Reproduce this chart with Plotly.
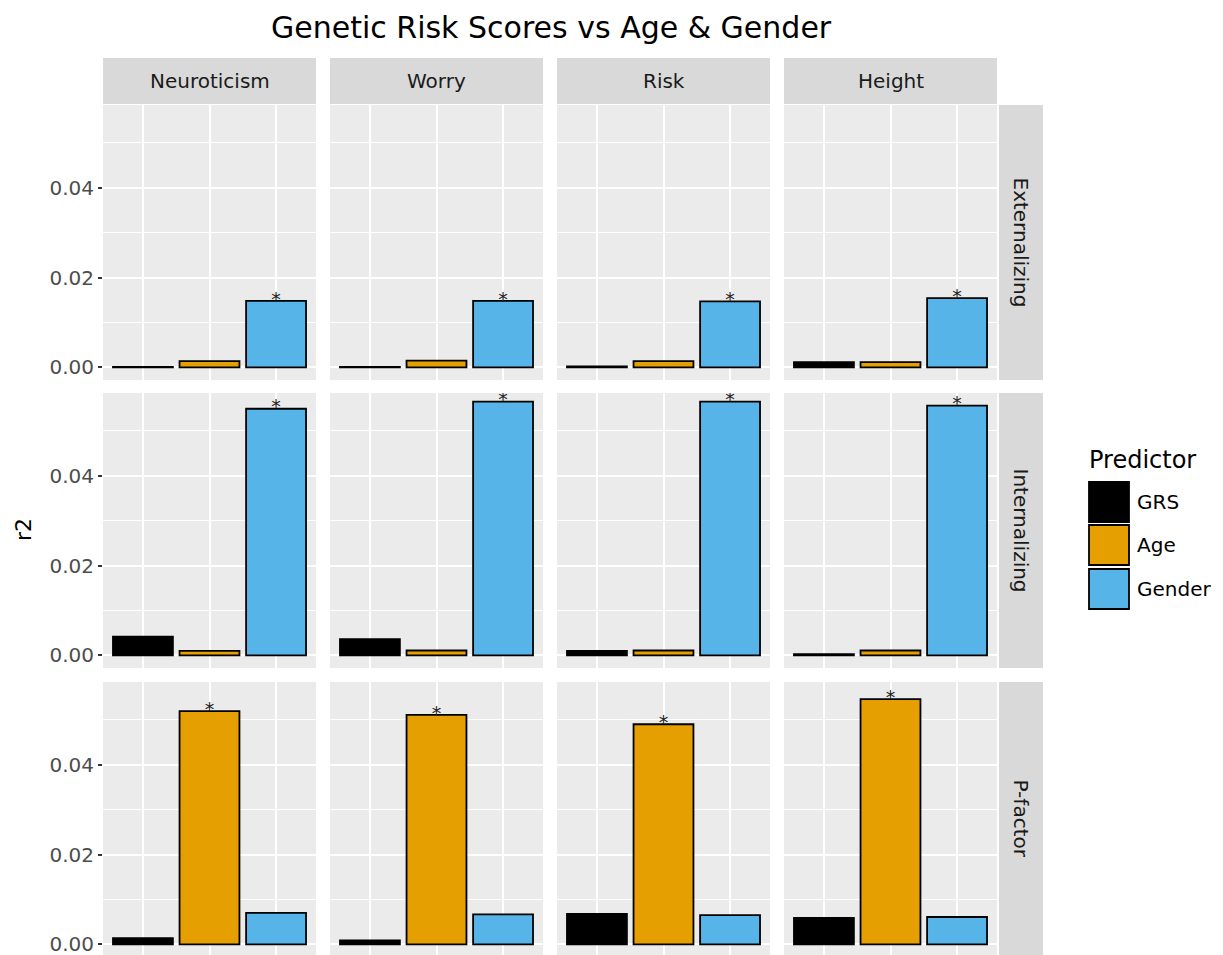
import plotly.graph_objects as go

# ---------------- data ----------------
predictors = ["GRS", "Age", "Gender"]
grs_types = ["Neuroticism", "Worry", "Risk", "Height"]
outcomes = ["Externalizing", "Internalizing", "P-factor"]

# r2 values per outcome, per GRS type (Neuroticism, Worry, Risk, Height)
ext_grs = [0.0001, 0.0001, 0.0002, 0.0012]
ext_age = [0.0014, 0.0015, 0.0014, 0.0012]
ext_gender = [0.0148, 0.0148, 0.0147, 0.0154]

int_grs = [0.0042, 0.0036, 0.0010, 0.0003]
int_age = [0.0010, 0.0011, 0.0011, 0.0011]
int_gender = [0.0549, 0.0565, 0.0565, 0.0556]

pf_grs = [0.0014, 0.0009, 0.0068, 0.0059]
pf_age = [0.0519, 0.0511, 0.0490, 0.0546]
pf_gender = [0.0070, 0.0067, 0.0065, 0.0061]

# significance flags (GRS, Age, Gender) per outcome
ext_sig = [0, 0, 1]
int_sig = [0, 0, 1]
pf_sig = [0, 1, 0]

pred_colors = ["#000000", "#E69F00", "#56B4E9"]

data = {
    "Externalizing": ([ext_grs, ext_age, ext_gender], ext_sig),
    "Internalizing": ([int_grs, int_age, int_gender], int_sig),
    "P-factor": ([pf_grs, pf_age, pf_gender], pf_sig),
}

# ---------------- layout geometry ----------------
OFF = 8  # page body margin
W, H = 1223 - OFF, 955 - OFF
FONT = "DejaVu Sans"
col_px = [(103, 316), (330, 543), (557, 770), (784, 997)]
row_px = [(105, 380), (393, 668), (682, 955)]
y_top = 0.0584
y_bot = -0.0028
px_per_unit = 275 / (y_top - y_bot)


def fx(p):
    return (p - OFF) / W


def fy(p):
    return (H - (p - OFF)) / H


fig = go.Figure()
shapes = []
annotations = []

for i, outc in enumerate(outcomes):
    series, sig = data[outc]
    for j, g in enumerate(grs_types):
        k = i * 4 + j + 1
        xa = "x" if k == 1 else f"x{k}"
        ya = "y" if k == 1 else f"y{k}"
        vals = [series[p][j] for p in range(3)]
        fig.add_trace(go.Bar(
            x=predictors, y=vals, width=0.9,
            marker=dict(color=pred_colors, line=dict(color="black", width=1.8)),
            xaxis=xa, yaxis=ya, showlegend=False,
            hovertemplate="%{x}: %{y:.4f}<extra></extra>",
        ))
        sx = [predictors[p] for p in range(3) if sig[p]]
        sy = [vals[p] for p in range(3) if sig[p]]
        fig.add_trace(go.Scatter(
            x=sx, y=sy, mode="text", text=["*"] * len(sx),
            textposition="middle center",
            textfont=dict(family=FONT, size=19, color="#222222"),
            xaxis=xa, yaxis=ya, showlegend=False, hoverinfo="skip",
        ))

        r0, r1 = row_px[i]
        c0, c1 = col_px[j]
        # bottom row is clipped by the page edge: keep same scale
        lo = y_top - (r1 - r0) / px_per_unit
        xkey = "xaxis" if k == 1 else f"xaxis{k}"
        ykey = "yaxis" if k == 1 else f"yaxis{k}"
        fig.update_layout(**{
            xkey: dict(
                domain=[fx(c0), fx(c1)], anchor=ya, type="category",
                categoryorder="array", categoryarray=predictors,
                range=[-0.6, 2.6], showgrid=True, gridcolor="white",
                gridwidth=2, showticklabels=False, ticks="",
                zeroline=False, showline=False,
            ),
            ykey: dict(
                domain=[fy(r1), fy(r0)], anchor=xa, range=[lo, y_top],
                tick0=0, dtick=0.02, tickformat=".2f",
                showgrid=True, gridcolor="white", gridwidth=2,
                minor=dict(dtick=0.01, tick0=0, showgrid=True,
                           gridcolor="white", gridwidth=1),
                zeroline=False, showline=False,
                showticklabels=(j == 0),
                ticklabeloverflow="allow",
                ticks="outside" if j == 0 else "",
                ticklen=4, tickwidth=1.5, tickcolor="#333333",
                tickfont=dict(family=FONT, size=20, color="#4D4D4D"),
            ),
        })

# top strips
for j, g in enumerate(grs_types):
    c0, c1 = col_px[j]
    shapes.append(dict(type="rect", xref="paper", yref="paper",
                       x0=fx(c0), x1=fx(c1), y0=fy(104), y1=fy(58),
                       fillcolor="#D9D9D9", line=dict(width=0), layer="below"))
    annotations.append(dict(text=g, xref="paper", yref="paper",
                            x=fx((c0 + c1) / 2), y=fy(81), showarrow=False,
                            xanchor="center", yanchor="middle",
                            font=dict(family=FONT, size=20, color="#1A1A1A")))

# right strips
for i, outc in enumerate(outcomes):
    r0, r1 = row_px[i]
    shapes.append(dict(type="rect", xref="paper", yref="paper",
                       x0=fx(999), x1=fx(1043), y0=fy(r1), y1=fy(r0),
                       fillcolor="#D9D9D9", line=dict(width=0), layer="below"))
    annotations.append(dict(text=outc, xref="paper", yref="paper",
                            x=fx(1021), y=fy((r0 + min(r1, 957)) / 2),
                            showarrow=False, textangle=90,
                            xanchor="center", yanchor="middle",
                            font=dict(family=FONT, size=20, color="#1A1A1A")))

# title and y-axis label
annotations.append(dict(text="Genetic Risk Scores vs Age & Gender",
                        xref="paper", yref="paper", x=fx(551), y=fy(27),
                        showarrow=False, xanchor="center", yanchor="middle",
                        borderpad=0,
                        font=dict(family=FONT, size=30, color="#000000")))
annotations.append(dict(text="r2", xref="paper", yref="paper",
                        x=fx(23), y=fy(530), showarrow=False, textangle=-90,
                        xanchor="center", yanchor="middle",
                        font=dict(family=FONT, size=22, color="#000000")))

# legend (drawn manually to match large ggplot keys)
annotations.append(dict(text="Predictor", xref="paper", yref="paper",
                        x=fx(1087), y=fy(460), showarrow=False,
                        xanchor="left", yanchor="middle",
                        font=dict(family=FONT, size=24, color="#000000")))
key_tops = [481, 524, 568]
for p, name in enumerate(predictors):
    t = key_tops[p]
    shapes.append(dict(type="rect", xref="paper", yref="paper",
                       x0=fx(1089), x1=fx(1129), y0=fy(t + 41), y1=fy(t + 1),
                       fillcolor=pred_colors[p],
                       line=dict(color="black", width=1.8)))
    annotations.append(dict(text=name, xref="paper", yref="paper",
                            x=fx(1135), y=fy(t + 21), showarrow=False,
                            xanchor="left", yanchor="middle",
                            font=dict(family=FONT, size=20, color="#000000")))

fig.update_layout(
    width=W, height=H,
    margin=dict(l=0, r=0, t=0, b=0),
    paper_bgcolor="white", plot_bgcolor="#EBEBEB",
    barmode="overlay", showlegend=False,
    shapes=shapes, annotations=annotations,
    font=dict(family=FONT),
)

fig.write_html("out.html")
